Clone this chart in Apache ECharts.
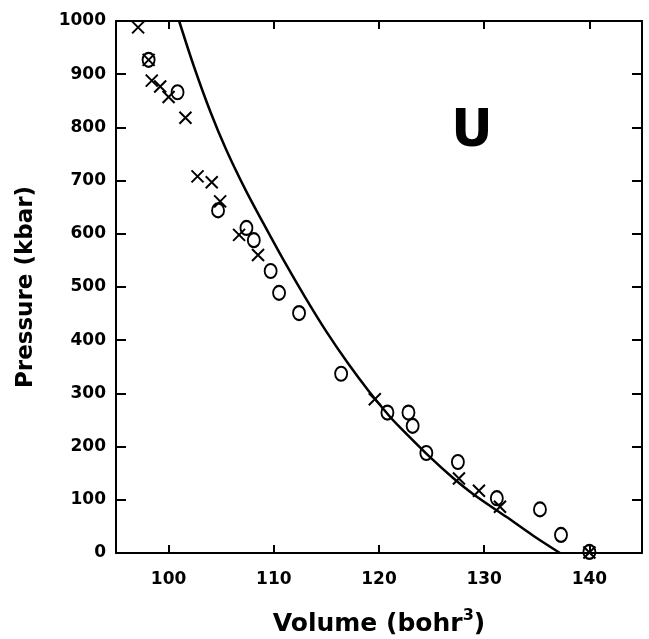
<!DOCTYPE html>
<html>
<head>
<meta charset="utf-8">
<title>U pressure-volume</title>
<script src="https://cdn.jsdelivr.net/npm/echarts@6/dist/echarts.min.js"></script>
<style>
  html, body { margin: 0; background: #fff; }
  #main { width: 649px; height: 639px; }
</style>
</head>
<body>
<div id="main"></div>
<script>
// tick labels
const xTicks = [100, 110, 120, 130, 140];

// measured points, circles
const circleVolume = [98.1, 100.85, 104.7, 107.4, 108.1, 109.7, 110.5, 112.4, 116.4, 120.8, 122.8, 123.2, 124.5, 127.5, 131.2, 135.3, 137.3, 140.0];
const circlePressure = [927, 866, 644, 611, 588, 530, 489, 451, 337, 264, 264, 239, 188, 171, 103, 82, 34, 2];

// measured points, crosses
const crossVolume = [97.1, 98.1, 98.4, 99.2, 100.0, 101.6, 102.75, 104.1, 104.9, 106.7, 108.5, 119.6, 127.6, 129.5, 131.5, 140.0];
const crossPressure = [988, 927, 888, 877, 857, 818, 708, 697, 661, 598, 560, 289, 140, 117, 87, 1];

// calculated curve
const curveVolume = [101.0, 102.4, 104.0, 105.5, 107.3, 109.0, 111.0, 113.0, 115.0, 117.0, 119.0, 121.0, 122.0, 124.8, 127.1, 129.0, 132.1, 134.7, 137.2];
const curvePressure = [1000, 915, 828, 757, 683, 620, 548, 480, 416, 358, 305, 257, 236, 181, 140, 110, 68, 32, 0];

const zip = (xs, ys) => xs.map((x, i) => [x, ys[i]]);

const font = "DejaVu Sans";
const crossPath = "path://M0,0L10,10M10,0L0,10";

function frameAxis(pos, isX) {
  const ax = {
    type: "value",
    position: pos,
    min: isX ? 95 : 0,
    max: isX ? 145 : 1000,
    axisLine: { show: true, onZero: false, lineStyle: { color: "#000", width: 2 } },
    axisTick: { show: true, inside: true, length: isX ? 8 : 10, lineStyle: { color: "#000", width: 2 } },
    axisLabel: { show: false },
    splitLine: { show: false }
  };
  if (isX) {
    ax.axisTick.customValues = xTicks;
  } else {
    ax.interval = 100;
  }
  return ax;
}

const xBottom = frameAxis("bottom", true);
xBottom.axisLabel = {
  show: true, customValues: xTicks, margin: 18,
  color: "#000", fontFamily: font, fontWeight: "bold", fontSize: 17
};
xBottom.name = "Volume (bohr{sup|3})";
xBottom.nameLocation = "middle";
xBottom.nameGap = 55;
xBottom.nameTextStyle = {
  color: "#000", fontFamily: font, fontWeight: "bold", fontSize: 25,
  rich: {
    sup: { color: "#000", fontFamily: font, fontWeight: "bold", fontSize: 16, padding: [0, 0, 16, 0] }
  }
};

const yLeft = frameAxis("left", false);
yLeft.axisLabel = {
  show: true, margin: 10,
  color: "#000", fontFamily: font, fontWeight: "bold", fontSize: 17,
  formatter: (v) => String(v)
};
yLeft.name = "Pressure (kbar)";
yLeft.nameLocation = "middle";
yLeft.nameGap = 78;
yLeft.nameTextStyle = { color: "#000", fontFamily: font, fontWeight: "bold", fontSize: 23 };

const options = {
  animation: false,
  backgroundColor: "#fff",
  grid: { left: 116, top: 21, right: 7, bottom: 86, outerBoundsMode: "none" },
  xAxis: [xBottom, frameAxis("top", true)],
  yAxis: [yLeft, frameAxis("right", false)],
  graphic: [{
    type: "text",
    x: 472, y: 133,
    style: {
      text: "U", fill: "#000", fontFamily: font, fontWeight: "bold", fontSize: 51,
      align: "center", verticalAlign: "middle"
    }
  }],
  series: [
    {
      type: "line",
      data: zip(curveVolume, curvePressure),
      showSymbol: false,
      smooth: 0.3,
      lineStyle: { color: "#000", width: 2.5 },
      z: 2
    },
    {
      type: "scatter",
      data: zip(circleVolume, circlePressure),
      symbol: "circle",
      symbolSize: [12, 14],
      itemStyle: { color: "rgba(0,0,0,0)", borderColor: "#000", borderWidth: 2, opacity: 1 },
      z: 3
    },
    {
      type: "scatter",
      data: zip(crossVolume, crossPressure),
      symbol: crossPath,
      symbolSize: 12,
      itemStyle: { color: "rgba(0,0,0,0)", borderColor: "#000", borderWidth: 2, opacity: 1 },
      z: 3
    }
  ]
};

var myChart = echarts.init(document.getElementById("main"));
myChart.setOption(options);
</script>
</body>
</html>
